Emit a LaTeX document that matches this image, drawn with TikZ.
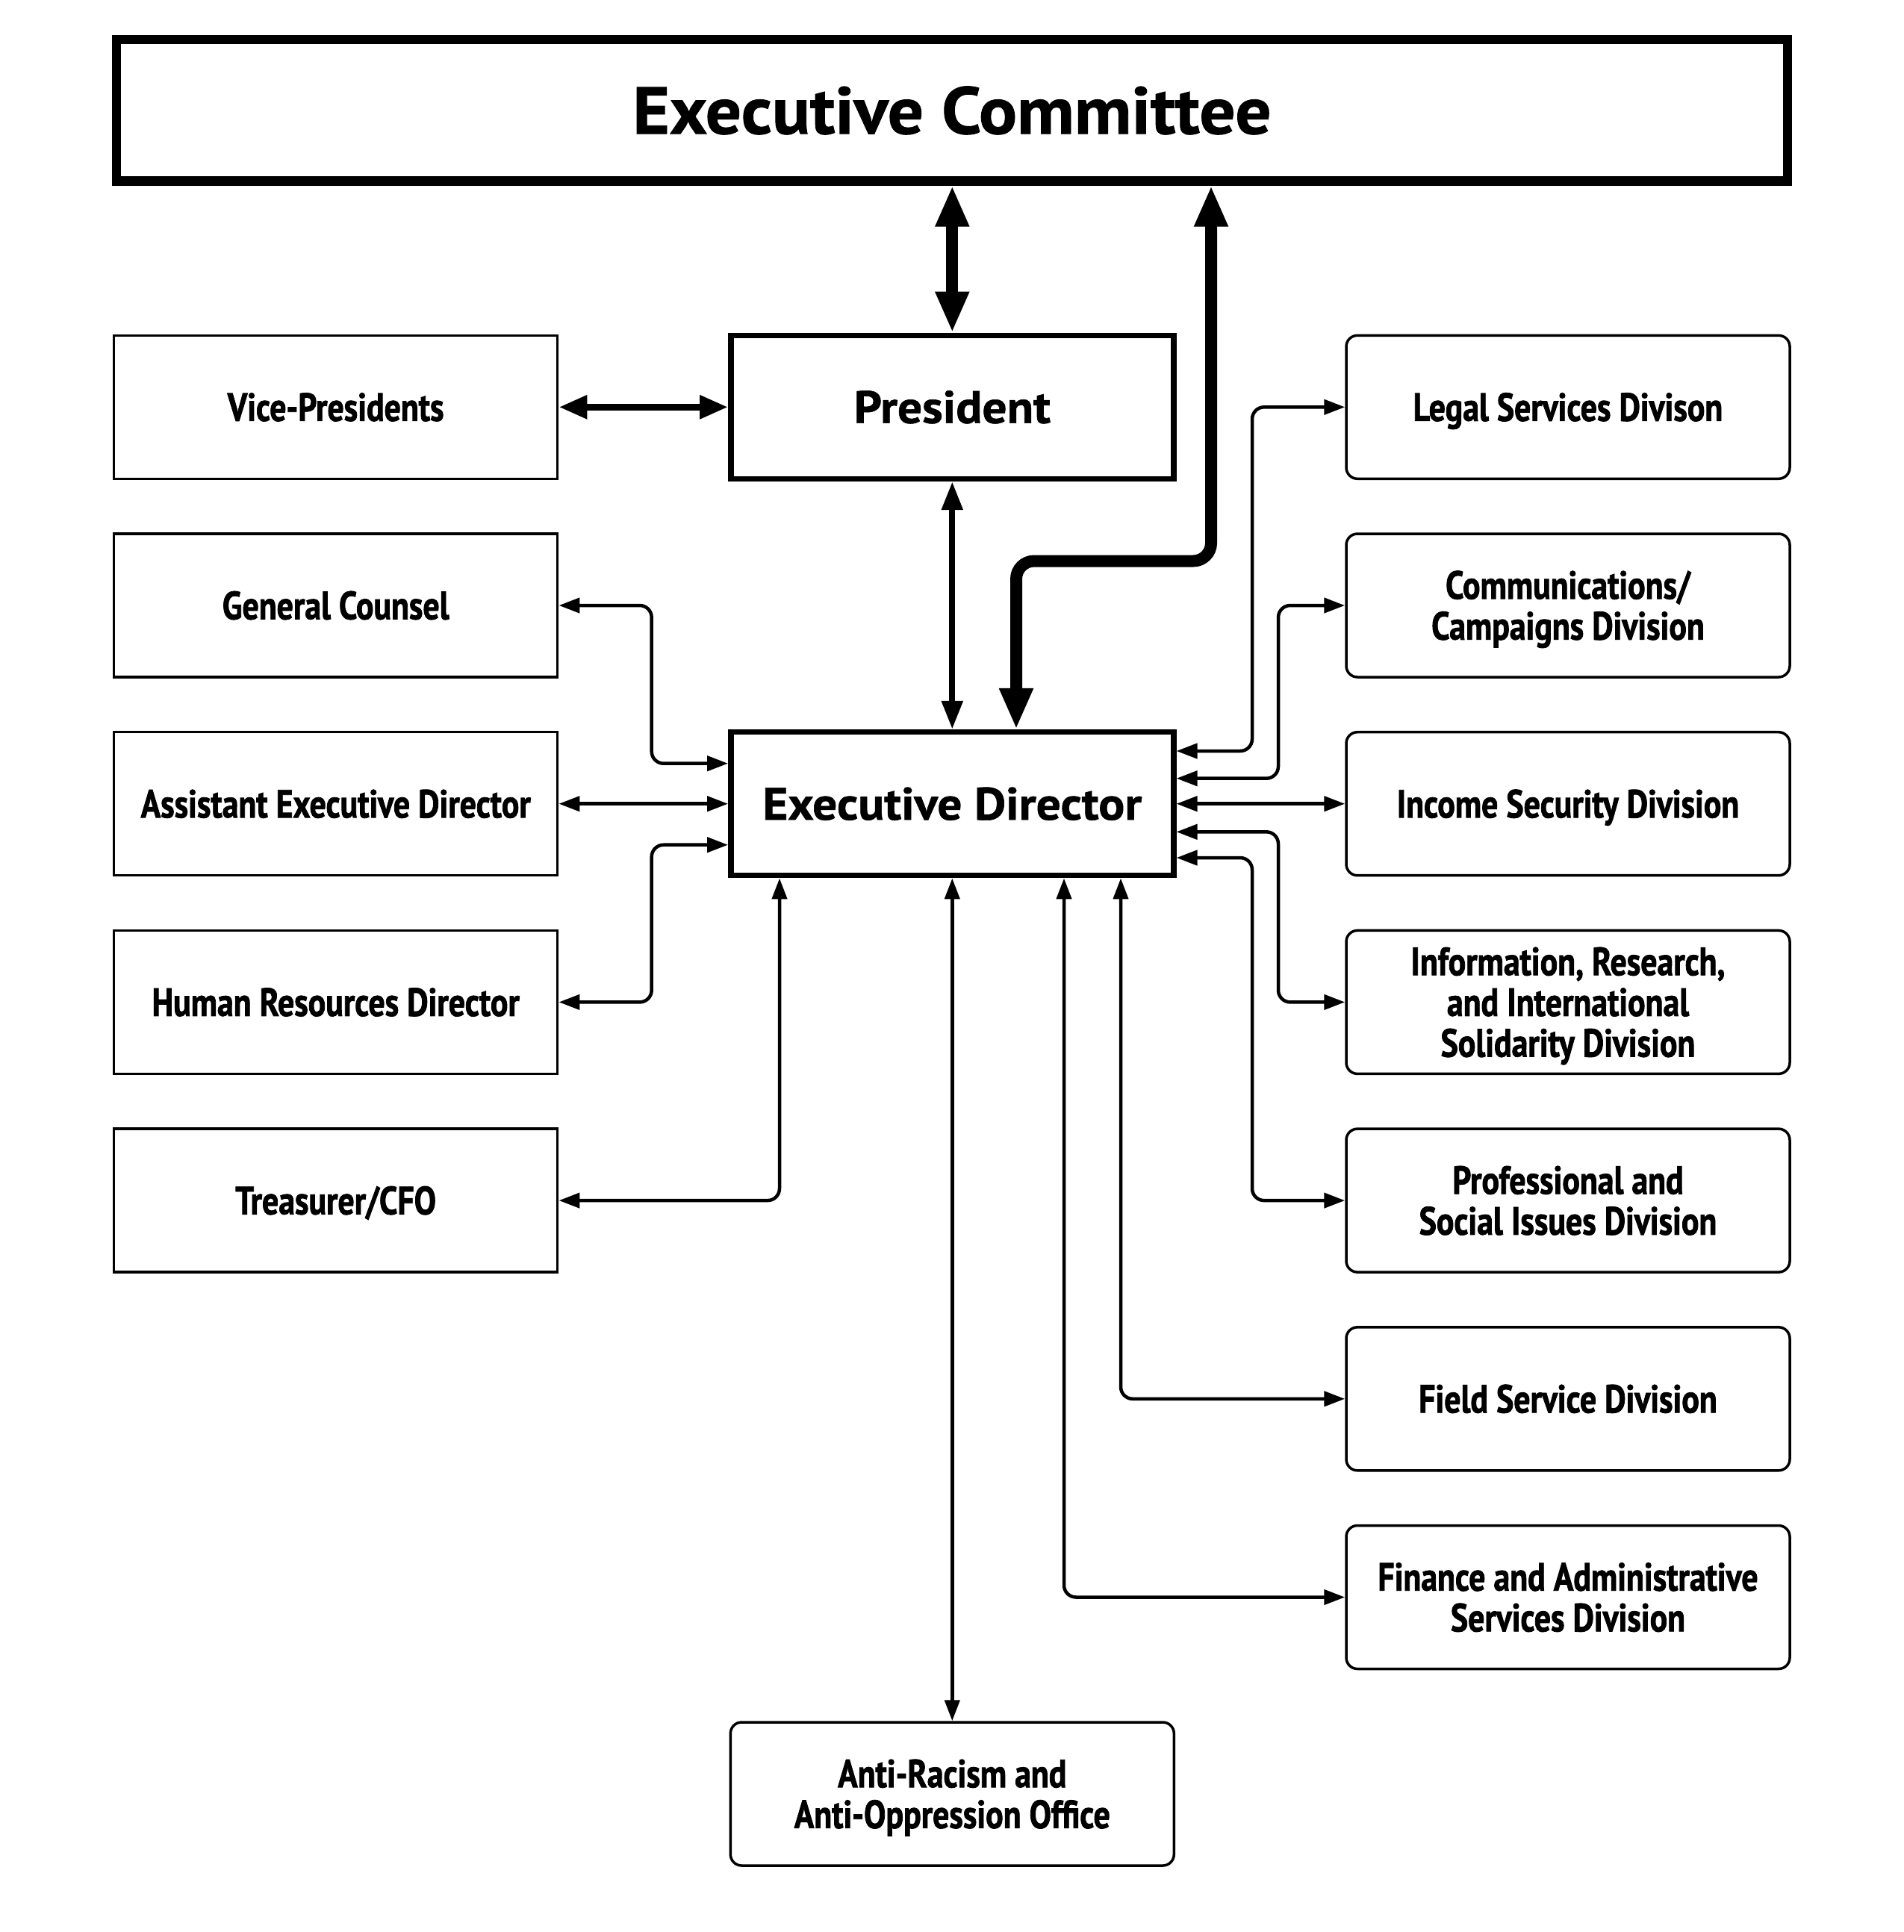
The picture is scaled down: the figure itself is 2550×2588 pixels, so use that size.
\documentclass[tikz,border=0pt]{standalone}
\usepackage{fontspec}
\usetikzlibrary{arrows.meta}
\newfontfamily\condfont[FakeStretch=0.83, FakeBold=1.5]{PT Sans}
\newfontfamily\bigfont[FakeStretch=1.07, FakeBold=1]{PT Sans}
\tikzset{
  lbox/.style={draw, line width=1.75pt, minimum width=297pt, minimum height=96pt,
    inner sep=0pt, align=center,
    font=\condfont\bfseries\fontsize{26.4pt}{27.3pt}\selectfont,
    text height=18.5pt, text depth=0pt},
  rbox/.style={lbox, rounded corners=7.5pt},
  twoline/.style={text height=45.8pt, text depth=0pt},
  threeline/.style={text height=73.1pt, text depth=0pt},
  mbox/.style={draw, line width=3.75pt, minimum width=296.5pt, minimum height=96pt,
    inner sep=0pt, font=\bigfont\bfseries\fontsize{30.5pt}{32pt}\selectfont,
    text height=21.3pt, text depth=0pt},
  ecbox/.style={draw, line width=6.15pt, minimum width=1119pt, minimum height=94.6pt,
    inner sep=0pt, font=\bigfont\bfseries\fontsize{44.5pt}{46pt}\selectfont,
    text height=31.2pt, text depth=0pt},
  conn/.style={line width=2.25pt, rounded corners=8pt,
    {Triangle[length=14pt,width=10pt]}-{Triangle[length=14pt,width=10pt]}},
  medconn/.style={line width=4pt,
    {Triangle[length=19pt,width=13.5pt]}-{Triangle[length=19pt,width=13.5pt]}},
  vpconn/.style={line width=4.5pt,
    {Triangle[length=19pt,width=15pt]}-{Triangle[length=19pt,width=15pt]}},
  bigconn/.style={line width=8pt, rounded corners=12pt,
    {Triangle[length=27.5pt,width=21pt]}-{Triangle[length=27.5pt,width=21pt]}},
}
\begin{document}
\begin{tikzpicture}[x=0.5pt, y=-0.5pt]
\fill[white] (0,0) rectangle (2550,2588);
\useasboundingbox (0,0) rectangle (2550,2588);

% top
\node[ecbox] (ec) at (1275,147.9) {Executive Committee};

% middle column
\node[mbox] (pres) at (1275.3,545.3) {President};
\node[mbox] (ed) at (1275.3,1076.7) {Executive Director};
\node[rbox, twoline] (ar) at (1275.3,2403) {Anti-Racism and\\Anti-Oppression Office};

% left column
\node[lbox] (vp) at (449.7,545.3) {Vice-Presidents};
\node[lbox] (gc) at (449.7,811) {General Counsel};
\node[lbox] (aed) at (449.7,1076.7) {Assistant Executive Director};
\node[lbox] (hr) at (449.7,1342.4) {Human Resources Director};
\node[lbox] (treas) at (449.7,1608.1) {Treasurer/CFO};

% right column
\node[rbox] (legal) at (2100,545.3) {Legal Services Divison};
\node[rbox, twoline] (comm) at (2100,811) {Communications/\\Campaigns Division};
\node[rbox] (inc) at (2100,1076.7) {Income Security Division};
\node[rbox, threeline] (info) at (2100,1342.4) {Information, Research,\\and International\\Solidarity Division};
\node[rbox, twoline] (prof) at (2100,1608.1) {Professional and\\Social Issues Division};
\node[rbox] (field) at (2100,1873.8) {Field Service Division};
\node[rbox, twoline] (fin) at (2100,2139.5) {Finance and Administrative\\Services Division};

% heavy connectors
\draw[bigconn] (ec.south -| pres.north) -- (pres.north);
\draw[bigconn] (ed.north -| 1361,0) -- (1361,751.5) -- (1622,751.5) -- (ec.south -| 1622,0);

% president links
\draw[vpconn] (vp.east) -- (pres.west);
\draw[medconn] (pres.south) -- (ed.north);

% left links
\draw[conn] (gc.east) -- (872.7,811) |- (ed.west |- 0,1022.7);
\draw[conn] (aed.east) -- (ed.west);
\draw[conn] (hr.east) -- (872.7,1342.4) |- (ed.west |- 0,1131.7);
\draw[conn] (treas.east) -| (ed.south -| 1044,0);

% bottom links
\draw[conn] (ed.south) -- (ar.north);
\draw[conn] (ed.south -| 1425,0) |- (fin.west);
\draw[conn] (ed.south -| 1501,0) |- (field.west);

% right links
\draw[conn] (ed.east |- 0,1006) -| (1677,545.3) -- (legal.west);
\draw[conn] (ed.east |- 0,1042.7) -| (1712,811) -- (comm.west);
\draw[conn] (ed.east) -- (inc.west);
\draw[conn] (ed.east |- 0,1114.3) -| (1712,1342.4) -- (info.west);
\draw[conn] (ed.east |- 0,1149) -| (1677,1608.1) -- (prof.west);
\end{tikzpicture}
\end{document}
